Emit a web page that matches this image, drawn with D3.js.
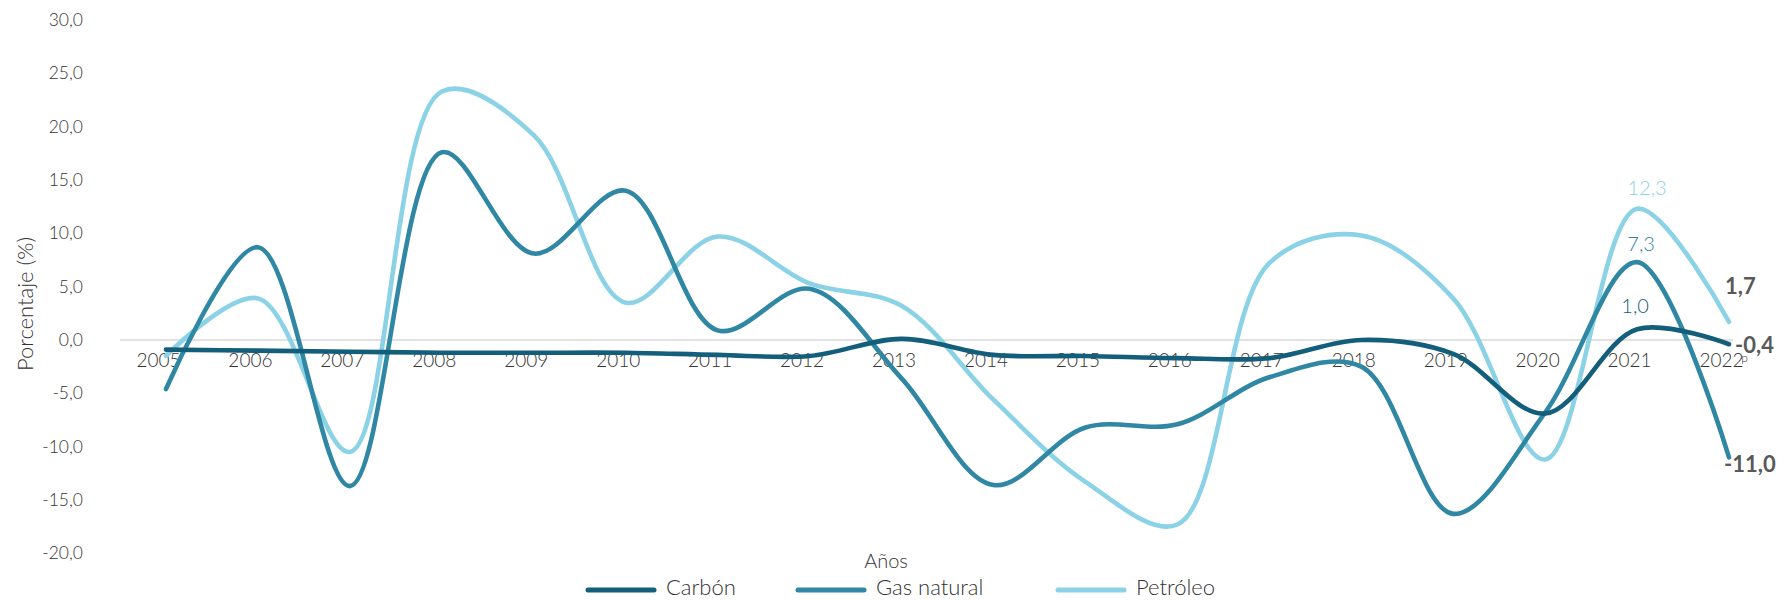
<!DOCTYPE html>
<html>
<head>
<meta charset="utf-8">
<script src="https://cdn.jsdelivr.net/npm/d3@7"></script>
<style>
  body { margin: 0; background: #ffffff; }
  svg text { font-family: "Lato", "Open Sans", sans-serif; }
</style>
</head>
<body>
<svg id="chart" width="1791" height="600"></svg>
<script>
// ---------- data ----------
const years = ["2005","2006","2007","2008","2009","2010","2011","2012","2013",
               "2014","2015","2016","2017","2018","2019","2020","2021","2022"];
const carbon     = [-0.9, -1.0, -1.1, -1.2, -1.2, -1.2, -1.4, -1.5, 0.1, -1.4, -1.5, -1.7, -1.7, 0.0, -1.3, -6.9, 1.0, -0.4];
const gasNatural = [-4.6, 8.7, -13.7, 17.6, 8.1, 14.0, 0.9, 4.8, -3.6, -13.6, -8.2, -7.9, -3.5, -2.5, -16.3, -6.8, 7.3, -11.0];
const petroleo   = [-1.5, 3.9, -10.5, 23.3, 19.2, 3.5, 9.7, 5.3, 3.2, -5.6, -13.3, -17.3, 7.2, 9.8, 3.9, -11.2, 12.3, 1.7];
const seriesNames  = ["Carbón", "Gas natural", "Petróleo"];
const seriesColors = ["#135e7a", "#2f87a3", "#8bd2e7"];
const yTicks = [-20, -15, -10, -5, 0, 5, 10, 15, 20, 25, 30];
const yTitle = "Porcentaje (%)";
const xTitle = "Años";
const provisionalMark = "p";

// ---------- setup ----------
const svg = d3.select("#chart");
const textColor = "#333333";
const plotLeft = 120, plotRight = 1775;
const x = d3.scalePoint().domain(years).range([plotLeft, plotRight]).padding(0.5);
const y = d3.scaleLinear().domain([-20, 30]).range([553.3, 20]);
const fmt = v => d3.format(".1f")(v).replace("\u2212", "-").replace(".", ",");

// zero gridline
svg.append("line")
  .attr("x1", plotLeft).attr("x2", x(years[years.length - 1]) + 4)
  .attr("y1", y(0)).attr("y2", y(0))
  .attr("stroke", "#d9d9d9").attr("stroke-width", 1.3);

// y axis
const yAxis = d3.axisLeft(y).tickValues(yTicks).tickSize(0).tickPadding(0).tickFormat(fmt);
const gy = svg.append("g").attr("transform", "translate(83,0)").call(yAxis);
gy.select(".domain").remove();
gy.selectAll("text").attr("font-size", 17.5).attr("font-weight", 300).attr("fill", textColor)
  .attr("font-family", "Lato");

// x axis labels
const xAxis = d3.axisBottom(x).tickSize(0).tickPadding(0);
const gx = svg.append("g").attr("transform", `translate(-8,${y(0) + 21})`).call(xAxis);
gx.select(".domain").remove();
gx.selectAll("text").attr("font-size", 19).attr("font-weight", 300).attr("fill", textColor)
  .attr("font-family", "Lato").attr("dy", 0).attr("y", 6);
// provisional superscript on last year
const lastTick = gx.selectAll(".tick").filter(d => d === years[years.length - 1]);
const lastText = lastTick.select("text").node();
const lastW = lastText.getComputedTextLength();
lastTick.append("text")
  .attr("x", lastW / 2 + 1).attr("y", 1)
  .attr("font-size", 12).attr("font-weight", 300).attr("fill", textColor)
  .attr("font-family", "Lato")
  .text(provisionalMark);

// axis titles
svg.append("text")
  .attr("transform", `translate(33,${304}) rotate(-90)`)
  .attr("text-anchor", "middle")
  .attr("font-size", 22).attr("font-weight", 300).attr("fill", textColor)
  .text(yTitle);
svg.append("text")
  .attr("x", 886).attr("y", 568)
  .attr("text-anchor", "middle")
  .attr("font-size", 20).attr("font-weight", 300).attr("fill", textColor)
  .text(xTitle);

// lines
const seriesData = [carbon, gasNatural, petroleo];
const line = d3.line()
  .x((d, i) => x(years[i]))
  .y(d => y(d))
  .curve(d3.curveCatmullRom.alpha(0.5));
const drawOrder = [2, 1, 0];
drawOrder.forEach(k => {
  svg.append("path")
    .datum(seriesData[k])
    .attr("d", line)
    .attr("fill", "none")
    .attr("stroke", seriesColors[k])
    .attr("stroke-width", 4.6)
    .attr("stroke-linecap", "round")
    .attr("stroke-linejoin", "round");
});

// data labels
const i21 = years.indexOf("2021"), i22 = years.indexOf("2022");
const labels = [
  { s: 2, i: i21, dx: 10, dy: -19, anchor: "middle", bold: false, color: seriesColors[2] },
  { s: 1, i: i21, dx: 4,  dy: -16, anchor: "middle", bold: false, color: seriesColors[1] },
  { s: 0, i: i21, dx: -2, dy: -21, anchor: "middle", bold: false, color: seriesColors[0] },
  { s: 2, i: i22, dx: -4, dy: -33, anchor: "start",  bold: true,  color: "#595959" },
  { s: 0, i: i22, dx: 6,  dy: 3,   anchor: "start",  bold: true,  color: "#595959" },
  { s: 1, i: i22, dx: -5, dy: 9,   anchor: "start",  bold: true,  color: "#595959" }
];
labels.forEach(L => {
  const v = seriesData[L.s][L.i];
  svg.append("text")
    .attr("x", x(years[L.i]) + L.dx)
    .attr("y", y(v) + L.dy)
    .attr("dominant-baseline", "middle")
    .attr("text-anchor", L.anchor)
    .attr("font-size", L.bold ? 22 : 20)
    .attr("font-weight", L.bold ? 700 : 300)
    .attr("fill", L.color)
    .text(fmt(v));
});

// legend
const legendX = [588, 798, 1058];
const legendY = 590;
seriesNames.forEach((name, k) => {
  svg.append("line")
    .attr("x1", legendX[k]).attr("x2", legendX[k] + 66)
    .attr("y1", legendY).attr("y2", legendY)
    .attr("stroke", seriesColors[k]).attr("stroke-width", 5)
    .attr("stroke-linecap", "round");
  svg.append("text")
    .attr("x", legendX[k] + 78).attr("y", legendY)
    .attr("dominant-baseline", "middle")
    .attr("font-size", 22).attr("font-weight", 300).attr("fill", textColor)
    .text(name);
});
</script>
</body>
</html>
